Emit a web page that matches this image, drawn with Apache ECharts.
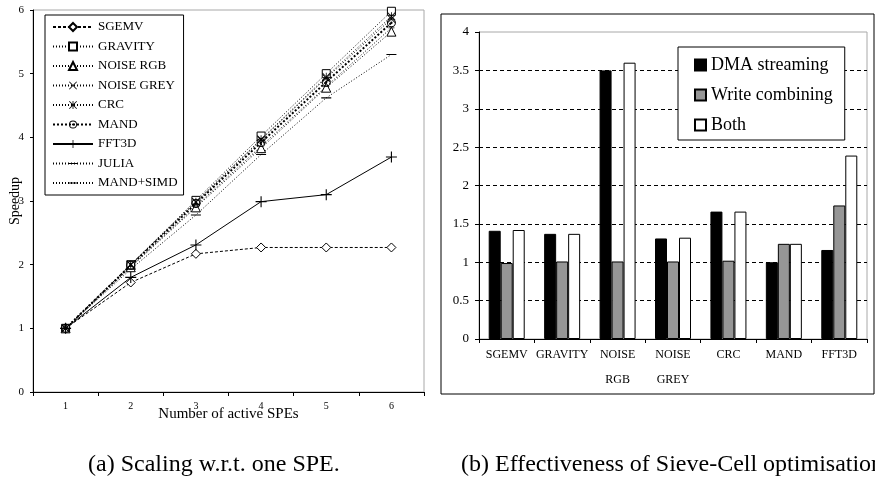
<!DOCTYPE html>
<html>
<head>
<meta charset="utf-8">
<script src="https://cdn.jsdelivr.net/npm/echarts@6/dist/echarts.min.js"></script>
<style>
  html, body { margin: 0; padding: 0; background: #fff; }
  #chart { width: 875px; height: 487px; }
</style>
</head>
<body>
<div id="chart"></div>
<script>
// (a) scaling, speedup per number of SPEs
const speCounts = ['1', '2', '3', '4', '5', '6']
const sgemv = [1, 1.72, 2.17, 2.27, 2.27, 2.27]
const gravity = [1, 2.0, 3.01, 4.02, 5.0, 5.98]
const noiseRgb = [1, 1.96, 2.9, 3.83, 4.78, 5.66]
const noiseGrey = [1, 2.0, 2.98, 3.96, 4.93, 5.86]
const crc = [1, 2.0, 2.99, 3.97, 4.95, 5.9]
const mand = [1, 1.99, 2.96, 3.92, 4.87, 5.8]
const fft3d = [1, 1.8, 2.31, 2.99, 3.1, 3.69]
const julia = [1, 1.97, 2.92, 3.86, 4.8, 5.72]
const mandSimd = [1, 1.93, 2.78, 3.73, 4.62, 5.3]

// (b) optimisation effectiveness
const benchmarks = ['SGEMV', 'GRAVITY', 'NOISE\nRGB', 'NOISE\nGREY', 'CRC', 'MAND', 'FFT3D']
const dmaStreaming = [1.41, 1.37, 3.5, 1.31, 1.66, 1.0, 1.16]
const writeCombining = [0.99, 1.01, 1.01, 1.01, 1.02, 1.24, 1.74]
const both = [1.42, 1.37, 3.6, 1.32, 1.66, 1.24, 2.39]

const serif = "'Liberation Serif', 'Times New Roman', serif"

const plusPath = 'path://M4.5,0H5.5V4.5H10V5.5H5.5V10H4.5V5.5H0V4.5H4.5Z'
const crossPath = 'path://M0.7,0L5,4.3L9.3,0L10,0.7L5.7,5L10,9.3L9.3,10L5,5.7L0.7,10L0,9.3L4.3,5L0,0.7Z'
const starPath = 'path://M0.7,0L4.5,3.8V0H5.5V3.8L9.3,0L10,0.7L5.7,5L10,9.3L9.3,10L5.5,6.2V10H4.5V6.2L0.7,10L0,9.3L4.3,5L0,0.7Z'
const dotCirclePath = 'path://M5,0A5,5 0 1,1 5,10A5,5 0 1,1 5,0Z M5,1.1A3.9,3.9 0 1,0 5,8.9A3.9,3.9 0 1,0 5,1.1Z M5,3.7A1.3,1.3 0 1,1 5,6.3A1.3,1.3 0 1,1 5,3.7Z'
// thin bar inside a square box, so the symbol keeps its shape in the legend too
const dashPath = 'path://M0,-4Z M0,4H10V6H0Z M0,14Z'

function lineSeries (name, data, symbol, size, lineType, hollow, width) {
  return {
    name: name,
    type: 'line',
    data: data,
    symbol: symbol,
    symbolSize: size,
    showAllSymbol: true,
    lineStyle: { color: '#000', width: width || 1, type: lineType },
    itemStyle: hollow
      ? { color: '#fff', borderColor: '#000', borderWidth: 1 }
      : { color: '#000', borderWidth: 0 },
    emphasis: { disabled: true }
  }
}

function barSeries (name, data, fill) {
  return {
    name: name,
    type: 'bar',
    xAxisIndex: 1,
    yAxisIndex: 1,
    data: data,
    barWidth: 12,
    barGap: '0%',
    itemStyle: { color: fill, borderColor: '#000', borderWidth: 1 }
  }
}

const chart = echarts.init(document.getElementById('chart'))

const options = {
  animation: false,
  textStyle: { fontFamily: serif, color: '#000' },
  title: [
    {
      text: '(a) Scaling w.r.t. one SPE.',
      left: 88,
      top: 453,
      padding: 0,
      textStyle: { fontFamily: serif, fontSize: 24, fontWeight: 'normal', color: '#000' }
    },
    {
      text: '(b) Effectiveness of Sieve-Cell optimisations.',
      left: 461,
      top: 453,
      padding: 0,
      textStyle: { fontFamily: serif, fontSize: 24, fontWeight: 'normal', color: '#000' }
    }
  ],
  graphic: [
    {
      type: 'rect',
      shape: { x: 441, y: 14, width: 433, height: 380 },
      style: { fill: 'none', stroke: '#000', lineWidth: 1 },
      z: -1
    }
  ],
  legend: [
    {
      orient: 'vertical',
      left: 45,
      top: 15,
      padding: [5, 6, 5, 7],
      itemWidth: 40,
      itemHeight: 10,
      itemGap: 5.5,
      borderColor: '#000',
      borderWidth: 1,
      backgroundColor: '#fff',
      textStyle: { fontFamily: serif, fontSize: 13, lineHeight: 14, color: '#000' },
      data: ['SGEMV', 'GRAVITY', 'NOISE RGB', 'NOISE GREY', 'CRC', 'MAND', 'FFT3D', 'JULIA', 'MAND+SIMD']
    },
    {
      orient: 'vertical',
      left: 678,
      top: 47,
      padding: [8, 12, 5, 16],
      itemWidth: 11,
      itemHeight: 11,
      itemGap: 10,
      icon: 'rect',
      borderColor: '#000',
      borderWidth: 1,
      backgroundColor: '#fff',
      textStyle: { fontFamily: serif, fontSize: 18, lineHeight: 20, color: '#000' },
      data: ['DMA streaming', 'Write combining', 'Both']
    }
  ],
  grid: [
    { left: 33, top: 10, right: 451, bottom: 95, show: true, borderColor: '#a8a8a8', borderWidth: 1, backgroundColor: '#fff' },
    { left: 479, top: 32, right: 8, bottom: 148, show: true, borderColor: '#a8a8a8', borderWidth: 1, backgroundColor: '#fff' }
  ],
  xAxis: [
    {
      gridIndex: 0,
      type: 'category',
      data: speCounts,
      boundaryGap: true,
      name: 'Number of active SPEs',
      nameLocation: 'middle',
      nameGap: 15,
      nameMoveOverlap: false,
      nameTextStyle: { fontFamily: serif, fontSize: 15, color: '#000' },
      axisLine: { lineStyle: { color: '#000', width: 1 } },
      axisTick: { show: true, length: 4, lineStyle: { color: '#000' } },
      axisLabel: { fontFamily: serif, fontSize: 10, color: '#000', margin: 9 },
      splitLine: { show: false }
    },
    {
      gridIndex: 1,
      type: 'category',
      data: benchmarks,
      boundaryGap: true,
      axisLine: { lineStyle: { color: '#000', width: 1 } },
      axisTick: { show: true, length: 4, lineStyle: { color: '#000' } },
      axisLabel: { fontFamily: serif, fontSize: 12, lineHeight: 25, color: '#000', margin: 3, interval: 0 },
      splitLine: { show: false }
    }
  ],
  yAxis: [
    {
      gridIndex: 0,
      type: 'value',
      min: 0,
      max: 6,
      interval: 1,
      name: 'Speedup',
      nameLocation: 'middle',
      nameGap: 11,
      nameMoveOverlap: false,
      nameTextStyle: { fontFamily: serif, fontSize: 14, color: '#000' },
      axisLine: { show: true, lineStyle: { color: '#000', width: 1 } },
      axisTick: { show: true, length: 3, lineStyle: { color: '#000' } },
      axisLabel: { fontFamily: serif, fontSize: 11, color: '#000', margin: 9 },
      splitLine: { show: false }
    },
    {
      gridIndex: 1,
      type: 'value',
      min: 0,
      max: 4,
      interval: 0.5,
      axisLine: { show: true, lineStyle: { color: '#000', width: 1 } },
      axisTick: { show: true, length: 4, lineStyle: { color: '#000' } },
      axisLabel: { fontFamily: serif, fontSize: 13, color: '#000', margin: 10 },
      splitLine: {
        show: true,
        showMinLine: false,
        showMaxLine: false,
        lineStyle: { color: '#000', type: [4, 3], width: 1 }
      }
    }
  ],
  series: [
    lineSeries('SGEMV', sgemv, 'diamond', 9, [3, 2], true),
    lineSeries('GRAVITY', gravity, 'rect', 8, [1, 2], true),
    lineSeries('NOISE RGB', noiseRgb, 'triangle', 9, [1, 2], true),
    lineSeries('NOISE GREY', noiseGrey, crossPath, 8, [1, 2], false),
    lineSeries('CRC', crc, starPath, 8, [1, 2], false),
    lineSeries('MAND', mand, dotCirclePath, 9, [2, 2], false, 2),
    lineSeries('FFT3D', fft3d, plusPath, 11, 'solid', false),
    lineSeries('JULIA', julia, dashPath, 6, [1, 2], false),
    lineSeries('MAND+SIMD', mandSimd, dashPath, 10, [1, 2], false),
    barSeries('DMA streaming', dmaStreaming, '#000'),
    barSeries('Write combining', writeCombining, '#969696'),
    barSeries('Both', both, '#fff')
  ]
}

chart.setOption(options)
window.addEventListener('resize', function () {
  chart.resize()
})
</script>
</body>
</html>
